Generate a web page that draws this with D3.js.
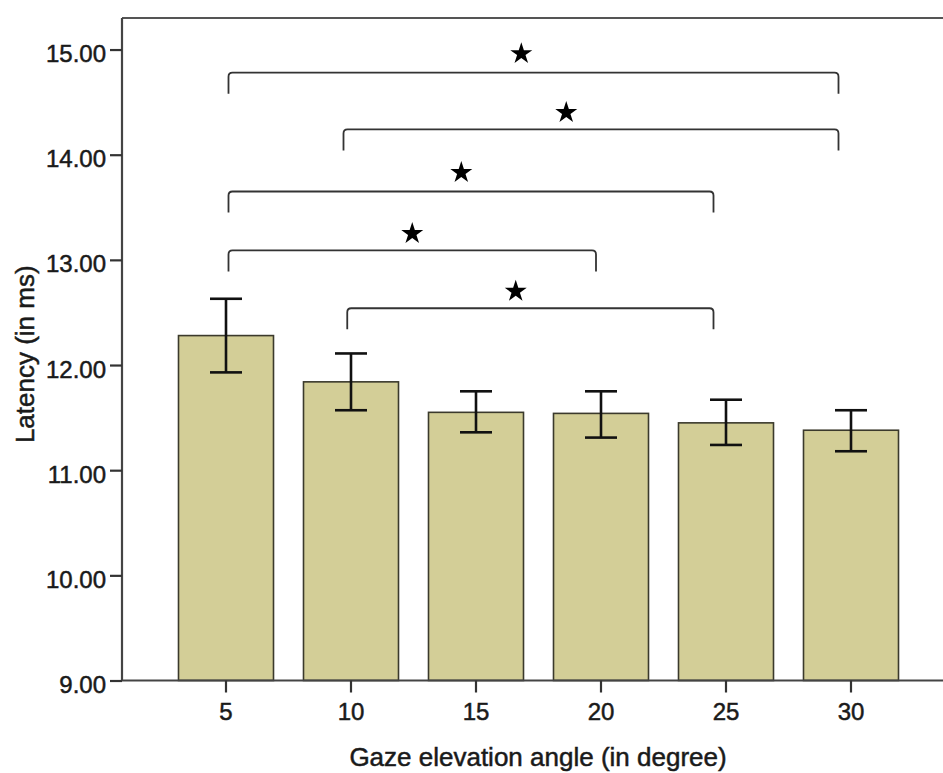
<!DOCTYPE html>
<html>
<head>
<meta charset="utf-8">
<script src="https://cdn.jsdelivr.net/npm/d3@7"></script>
<style>
  html, body { margin: 0; padding: 0; background: #fff; }
  svg { display: block; }
  text { font-family: "Liberation Sans", Arial, sans-serif; fill: #1a1a1a; stroke: #1a1a1a; stroke-width: 0.5px; }
</style>
</head>
<body>
<svg id="chart" width="943" height="773"></svg>
<script>
// ---- data ----
const categories = ["5", "10", "15", "20", "25", "30"];
const angles = [5, 10, 15, 20, 25, 30];
const means = [12.28, 11.84, 11.55, 11.54, 11.45, 11.38];
const errUpper = [12.63, 12.11, 11.75, 11.75, 11.67, 11.57];
const errLower = [11.93, 11.57, 11.36, 11.31, 11.24, 11.18];
const yTicks = [9, 10, 11, 12, 13, 14, 15];
// significance brackets: start/end angle, bracket level, star level, star position (fraction)
const bracketStart = [5.1, 9.7, 5.1, 5.1, 9.85];
const bracketEnd = [29.5, 29.5, 24.5, 19.8, 24.5];
const bracketLevel = [14.78, 14.24, 13.65, 13.09, 12.54];
const starLevel = [14.97, 14.41, 13.84, 13.26, 12.71];
const starFrac = [0.48, 0.45, 0.48, 0.50, 0.46];
const xTitle = "Gaze elevation angle (in degree)";
const yTitle = "Latency (in ms)";

// ---- layout ----
const svg = d3.select("#chart");
const mLeft = 122, mRight = 955, mTop = 18, mBottom = 680.5;

const x = d3.scaleBand().domain(categories).range([mLeft, mRight])
  .paddingInner(0.24).paddingOuter(0.452);
const y = d3.scaleLinear().domain([9, 15.3]).range([mBottom, mTop]);
const xc = c => x(c) + x.bandwidth() / 2;
const xLin = d3.scaleLinear().domain([5, 30]).range([xc("5"), xc("30")]);

// frame top line
svg.append("line").attr("x1", mLeft).attr("x2", mRight).attr("y1", mTop).attr("y2", mTop)
  .attr("stroke", "#555").attr("stroke-width", 2);

// bars
svg.append("g").selectAll("rect").data(categories).join("rect")
  .attr("x", d => x(d))
  .attr("y", (d, i) => y(means[i]))
  .attr("width", x.bandwidth())
  .attr("height", (d, i) => y(9) - y(means[i]))
  .attr("fill", "#d3ce97")
  .attr("stroke", "#3b3a2c")
  .attr("stroke-width", 1.6);

// error bars
const eg = svg.append("g").attr("stroke", "#111").attr("stroke-width", 2.6);
categories.forEach((c, i) => {
  const cx = xc(c);
  eg.append("line").attr("x1", cx).attr("x2", cx).attr("y1", y(errUpper[i])).attr("y2", y(errLower[i]));
  eg.append("line").attr("x1", cx - 16).attr("x2", cx + 16).attr("y1", y(errUpper[i])).attr("y2", y(errUpper[i]));
  eg.append("line").attr("x1", cx - 16).attr("x2", cx + 16).attr("y1", y(errLower[i])).attr("y2", y(errLower[i]));
});

// y axis
const yAxis = d3.axisLeft(y).tickValues(yTicks).tickFormat(d3.format(".2f")).tickSize(12).tickPadding(4);
const gy = svg.append("g").attr("transform", `translate(${mLeft},0)`).call(yAxis);
gy.select(".domain").attr("stroke", "#444").attr("stroke-width", 2.2)
  .attr("d", `M0,${mTop}V${mBottom}`);
gy.selectAll(".tick line").attr("stroke", "#333").attr("stroke-width", 2.2);
gy.selectAll(".tick text").attr("font-size", 24).attr("dy", "0.5em")
  .attr("fill", "#1a1a1a").style("font-family", "'Liberation Sans', Arial, sans-serif");

// x axis
const xAxis = d3.axisBottom(x).tickSize(12).tickPadding(10);
const gx = svg.append("g").attr("transform", `translate(0,${mBottom})`).call(xAxis);
gx.select(".domain").attr("stroke", "#444").attr("stroke-width", 2.2)
  .attr("d", `M${mLeft},0H${mRight}`);
gx.selectAll(".tick line").attr("stroke", "#333").attr("stroke-width", 2.2);
gx.selectAll(".tick text").attr("font-size", 24)
  .attr("fill", "#1a1a1a").style("font-family", "'Liberation Sans', Arial, sans-serif");

// brackets
const bg = svg.append("g").attr("fill", "none").attr("stroke", "#333").attr("stroke-width", 1.8);
const tickLen = 0.2;
bracketStart.forEach((s, i) => {
  const x1 = xLin(s), x2 = xLin(bracketEnd[i]);
  const yl = y(bracketLevel[i]), yb = y(bracketLevel[i] - tickLen);
  const r = 4;
  bg.append("path").attr("d",
    `M${x1},${yb}V${yl + r}Q${x1},${yl} ${x1 + r},${yl}H${x2 - r}Q${x2},${yl} ${x2},${yl + r}V${yb}`);
});

// stars
const star = d3.symbol().type(d3.symbolStar).size(150);
bracketStart.forEach((s, i) => {
  const sx = xLin(s) + starFrac[i] * (xLin(bracketEnd[i]) - xLin(s));
  svg.append("path").attr("d", star())
    .attr("transform", `translate(${sx},${y(starLevel[i]) + 1})`)
    .attr("fill", "#000");
});

// titles
svg.append("text").attr("x", 538).attr("y", 766)
  .attr("text-anchor", "middle").attr("font-size", 26).text(xTitle);
svg.append("text").attr("transform", `translate(34,${(mTop + mBottom) / 2 + 5}) rotate(-90)`)
  .attr("text-anchor", "middle").attr("font-size", 26).text(yTitle);
</script>
</body>
</html>
